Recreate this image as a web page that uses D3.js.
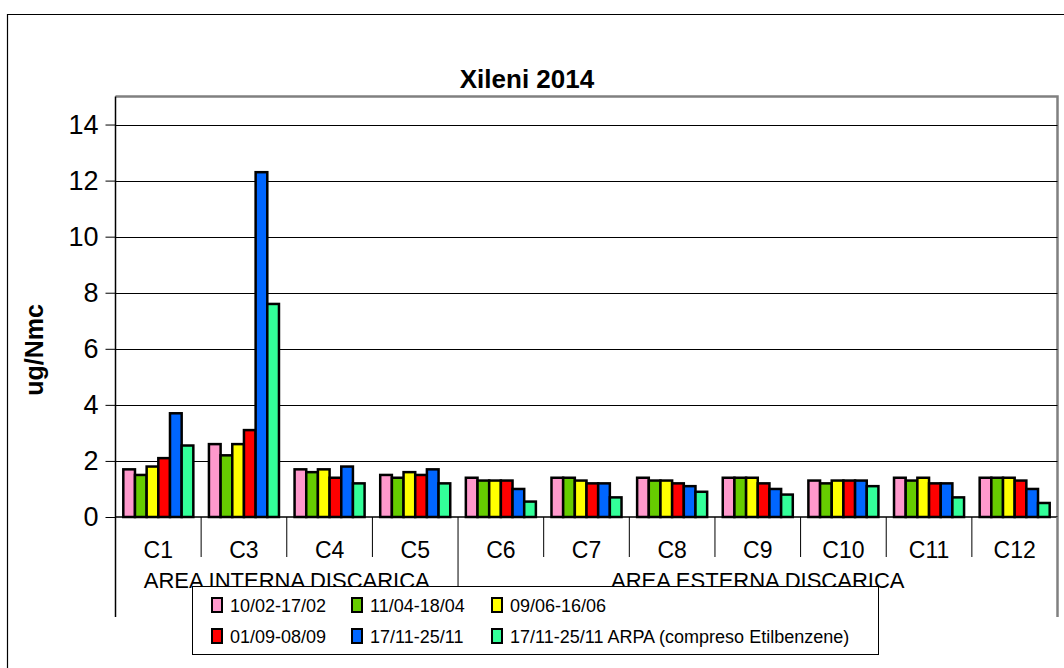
<!DOCTYPE html>
<html>
<head>
<meta charset="utf-8">
<script src="https://cdn.jsdelivr.net/npm/d3@7"></script>
<style>
  body { margin: 0; background: #fff; }
  svg { display: block; font-family: "Liberation Sans", Arial, sans-serif; }
</style>
</head>
<body>
<div id="container"></div>
<script>
// DATA
const categories = ["C1", "C3", "C4", "C5", "C6", "C7", "C8", "C9", "C10", "C11", "C12"];
const groupLabels = ["AREA INTERNA DISCARICA", "AREA ESTERNA DISCARICA"];
const groupSizes = [4, 7];
const seriesNames = ["10/02-17/02", "11/04-18/04", "09/06-16/06", "01/09-08/09", "17/11-25/11", "17/11-25/11 ARPA (compreso Etilbenzene)"];
const feb = [1.7, 2.6, 1.7, 1.5, 1.4, 1.4, 1.4, 1.4, 1.3, 1.4, 1.4];
const apr = [1.5, 2.2, 1.6, 1.4, 1.3, 1.4, 1.3, 1.4, 1.2, 1.3, 1.4];
const jun = [1.8, 2.6, 1.7, 1.6, 1.3, 1.3, 1.3, 1.4, 1.3, 1.4, 1.4];
const sep = [2.1, 3.1, 1.4, 1.5, 1.3, 1.2, 1.2, 1.2, 1.3, 1.2, 1.3];
const nov = [3.7, 12.3, 1.8, 1.7, 1.0, 1.2, 1.1, 1.0, 1.3, 1.2, 1.0];
const novArpa = [2.55, 7.6, 1.2, 1.2, 0.55, 0.7, 0.9, 0.8, 1.1, 0.7, 0.5];
const yTicks = [0, 2, 4, 6, 8, 10, 12, 14];

const seriesValues = [feb, apr, jun, sep, nov, novArpa];
const colors = ["#FF99CC", "#66CC00", "#FFFF00", "#FF0000", "#0066FF", "#33FF99"];

const width = 1064, height = 668;
const plot = {left: 115.5, right: 1057.5, top: 96.5, bottom: 517};

const svg = d3.select("#container").append("svg")
  .attr("width", width)
  .attr("height", height);

// outer frame
svg.append("path")
  .attr("d", `M7.5,${height} V14.5 H${width}`)
  .attr("fill", "none")
  .attr("stroke", "#000")
  .attr("stroke-width", 1.2);

// SCALES
const xScale = d3.scaleBand()
  .domain(categories)
  .range([plot.left, plot.right]);

const xInner = d3.scaleBand()
  .domain(d3.range(seriesNames.length))
  .range([7.8, xScale.bandwidth() - 7.8]);

const yScale = d3.scaleLinear()
  .domain([0, 15])
  .range([plot.bottom, plot.top]);

// plot border (gray top and right)
svg.append("path")
  .attr("d", `M${plot.left},${plot.top} H${plot.right} V${plot.bottom}`)
  .attr("fill", "none")
  .attr("stroke", "#808080")
  .attr("stroke-width", 2.5);

// gridlines
svg.append("g")
  .selectAll("line")
  .data(yTicks.filter(d => d > 0))
  .join("line")
    .attr("x1", plot.left)
    .attr("x2", plot.right)
    .attr("y1", d => Math.round(yScale(d)) + 0.5)
    .attr("y2", d => Math.round(yScale(d)) + 0.5)
    .attr("stroke", "#000")
    .attr("stroke-width", 1);

// Y AXIS
const yAxis = d3.axisLeft(yScale)
  .tickValues(yTicks)
  .tickSize(10)
  .tickPadding(7);

const yAxisGroup = svg.append("g")
  .attr("transform", `translate(${plot.left},0)`)
  .call(yAxis);
yAxisGroup.select(".domain").remove();
yAxisGroup.selectAll("line").attr("stroke", "#000");
yAxisGroup.selectAll("text")
  .style("font-size", "27px")
  .attr("fill", "#000");

// left axis line (continues down through category area)
svg.append("line")
  .attr("x1", plot.left).attr("x2", plot.left)
  .attr("y1", plot.top).attr("y2", 617)
  .attr("stroke", "#000").attr("stroke-width", 1.5);

// y title
svg.append("text")
  .attr("transform", `translate(43,350) rotate(-90)`)
  .attr("text-anchor", "middle")
  .style("font-size", "25px")
  .style("font-weight", "bold")
  .text("ug/Nmc");

// title
svg.append("text")
  .attr("x", 527)
  .attr("y", 88)
  .attr("text-anchor", "middle")
  .style("font-size", "26px")
  .style("font-weight", "bold")
  .text("Xileni 2014");

// BARS
const cat = svg.append("g").selectAll("g")
  .data(categories)
  .join("g")
    .attr("transform", d => `translate(${xScale(d)},0)`);

cat.selectAll("rect")
  .data((c, i) => seriesValues.map((vals, s) => ({s: s, v: vals[i]})))
  .join("rect")
    .attr("x", d => xInner(d.s))
    .attr("width", xInner.bandwidth())
    .attr("y", d => yScale(d.v))
    .attr("height", d => yScale(0) - yScale(d.v))
    .attr("fill", d => colors[d.s])
    .attr("stroke", "#000")
    .attr("stroke-width", 2.5);

// category axis line
svg.append("line")
  .attr("x1", plot.left).attr("x2", plot.right)
  .attr("y1", plot.bottom).attr("y2", plot.bottom)
  .attr("stroke", "#000").attr("stroke-width", 1.5);

// category separators
const bounds = categories.map(c => xScale(c)).concat([plot.right]);
const groupEdges = [0];
groupSizes.forEach(n => groupEdges.push(groupEdges[groupEdges.length - 1] + n));

svg.append("g").selectAll("line")
  .data(bounds.map((x, i) => ({x: x, i: i})))
  .join("line")
    .attr("x1", d => d.x).attr("x2", d => d.x)
    .attr("y1", plot.bottom)
    .attr("y2", d => groupEdges.includes(d.i) ? 617 : 557)
    .attr("stroke", d => d.i === bounds.length - 1 ? "#808080" : "#000")
    .attr("stroke-width", d => d.i === bounds.length - 1 ? 2.5 : 1);

// category labels
svg.append("g").selectAll("text")
  .data(categories)
  .join("text")
    .attr("x", d => xScale(d) + xScale.bandwidth() / 2)
    .attr("y", 558)
    .attr("text-anchor", "middle")
    .style("font-size", "23px")
    .text(d => d);

// group labels
svg.append("g").selectAll("text")
  .data(groupLabels)
  .join("text")
    .attr("x", (d, i) => (bounds[groupEdges[i]] + bounds[groupEdges[i + 1]]) / 2)
    .attr("y", 588)
    .attr("text-anchor", "middle")
    .style("font-size", "22px")
    .text(d => d);

// LEGEND
const legend = svg.append("g");
legend.append("rect")
  .attr("x", 192.5).attr("y", 586.5)
  .attr("width", 686).attr("height", 68)
  .attr("fill", "#fff")
  .attr("stroke", "#000")
  .attr("stroke-width", 1);

const item = legend.selectAll("g.item")
  .data(seriesNames)
  .join("g")
    .attr("class", "item")
    .attr("transform", (d, i) => `translate(${212 + (i % 3) * 140},${i < 3 ? 605 : 636})`);

item.append("rect")
  .attr("x", 0).attr("y", -7)
  .attr("width", 10).attr("height", 14)
  .attr("fill", (d, i) => colors[i])
  .attr("stroke", "#000")
  .attr("stroke-width", 2);

item.append("text")
  .attr("x", 18)
  .attr("y", 6.5)
  .style("font-size", "18px")
  .text(d => d);
</script>
</body>
</html>
